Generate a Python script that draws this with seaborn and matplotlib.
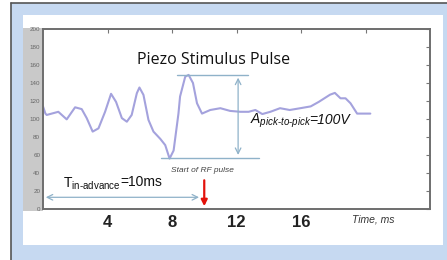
import matplotlib
matplotlib.use('Agg')
import matplotlib.pyplot as plt
import pandas as pd
import seaborn as sns
from matplotlib.patches import Rectangle
from matplotlib.lines import Line2D


TIME_MS = [0.0, 0.15, 0.23, 0.95, 1.47, 1.99, 2.4, 2.71, 3.08, 3.44, 3.85,
           4.22, 4.53, 4.89, 5.2, 5.5, 5.82, 5.98, 6.23, 6.54, 6.85, 7.27,
           7.58, 7.85, 8.1, 8.4, 8.5, 8.82, 9.03, 9.3, 9.55, 9.86, 10.37,
           11.0, 11.6, 12.24, 12.75, 13.17, 13.6, 14.1, 14.7, 15.3, 15.96,
           16.6, 17.1, 17.8, 18.1, 18.45, 18.76, 19.07, 19.48, 20.3]
VOLTS = [114, 106, 104.5, 108, 99.6, 113, 111, 101, 86, 89.6, 108,
         128, 119, 101, 97, 104.5, 128.7, 135, 126.8, 99, 86, 78,
         71, 56, 65, 106, 125, 147, 149, 140, 117.5, 106, 110,
         112, 109, 108, 108, 110, 105.5, 108, 112, 110, 112,
         114, 119, 127, 129, 123, 123, 117.5, 106, 106]

X_TICKS = [4, 8, 12, 16, 20]
X_TICK_LABELS = ['4', '8', '12', '16', '']
Y_TICKS = list(range(0, 201, 20))

PEAK, TROUGH = 149, 57
RF_START = 10

BLUE_BG = '#c6d9f1'
LINE_C = '#a4a2dd'
ANNOT_C = '#8fb2c9'


def decorate_figure(fig):
    W, H = 447, 260
    # light blue card with dark left/top edge
    fig.patches.append(Rectangle((11 / W, 0), 1, 1 - 3 / H, transform=fig.transFigure,
                                 facecolor=BLUE_BG, edgecolor='none', zorder=-3))
    fig.lines.append(Line2D([11 / W, 11 / W], [0, 1 - 3 / H], transform=fig.transFigure,
                            color='#555555', lw=1.2))
    fig.lines.append(Line2D([11 / W, 1], [1 - 3 / H, 1 - 3 / H], transform=fig.transFigure,
                            color='#555555', lw=1.2))
    # white panel
    fig.patches.append(Rectangle((23 / W, 1 - 245 / H), (443 - 23) / W, (245 - 15) / H,
                                 transform=fig.transFigure, facecolor='white',
                                 edgecolor='none', zorder=-2))
    # gray strip behind y tick labels
    fig.patches.append(Rectangle((23 / W, 1 - 211 / H), 20 / W, (211 - 28) / H,
                                 transform=fig.transFigure, facecolor='#c9c9c9',
                                 edgecolor='none', zorder=-1))


def sub_label(ax, x, y, main, sub, tail, italic, gap):
    # "main" with a subscript, then the tail right after it
    cmd = r'\mathit' if italic else r'\mathrm'
    t = ax.text(x, y, '$%s{%s}_{%s{%s}}$' % (cmd, main, cmd, sub),
                ha='left', va='baseline', fontsize=10, color='#111111')
    ax.annotate(tail, xy=(1, 0), xycoords=t, xytext=(gap, 2.2),
                textcoords='offset points', ha='left', va='bottom',
                fontsize=10, style='italic' if italic else 'normal', color='#111111')


def main():
    sns.set_style('white')
    plt.rcParams['font.family'] = ['Liberation Sans', 'DejaVu Sans']
    plt.rcParams['mathtext.fontset'] = 'custom'
    plt.rcParams['mathtext.rm'] = 'Liberation Sans'
    plt.rcParams['mathtext.it'] = 'Liberation Sans:italic'

    fig = plt.figure(figsize=(4.47, 2.6), dpi=100, facecolor='white')
    decorate_figure(fig)
    ax = fig.add_axes([43 / 447, 1 - 209 / 260, (430 - 43) / 447, (209 - 29) / 260])

    df = pd.DataFrame({'time': TIME_MS, 'volt': VOLTS})
    sns.lineplot(data=df, x='time', y='volt', ax=ax, color=LINE_C, lw=1.5, sort=False)

    ax.set_xlim(0, 24)
    ax.set_ylim(0, 200)
    ax.set_xlabel('')
    ax.set_ylabel('')
    ax.set_xticks(X_TICKS)
    ax.set_xticklabels(X_TICK_LABELS, fontsize=12, fontweight='bold', color='#222222')
    ax.set_yticks(Y_TICKS)
    ax.set_yticklabels([str(v) for v in Y_TICKS], fontsize=4.5, color='#666666')
    ax.tick_params(axis='both', direction='in', length=3, width=0.8, color='#777777',
                   top=True, right=True)
    ax.tick_params(axis='x', pad=4)
    ax.tick_params(axis='y', pad=2)
    for s in ax.spines.values():
        s.set_color('#6e6e6e')
        s.set_linewidth(1.4)

    ax.text(10.56, 166, 'Piezo Stimulus Pulse', ha='center', va='center',
            fontsize=11.5, family='Open Sans', color='#111111')

    # peak-to-peak marker
    ax.plot([8.3, 12.7], [PEAK, PEAK], color=ANNOT_C, lw=1)
    ax.plot([7.3, 13.4], [TROUGH, TROUGH], color=ANNOT_C, lw=1)
    ax.annotate('', xy=(12.1, PEAK), xytext=(12.1, TROUGH),
                arrowprops=dict(arrowstyle='<->', color=ANNOT_C, lw=0.9))
    sub_label(ax, 12.85, 95, 'A', 'pick‐to‐pick', '=100V', italic=True, gap=-2)

    ax.text(9.87, 43, 'Start of RF pulse', ha='center', va='center',
            fontsize=6, style='italic', color='#444444')

    # lead time marker
    ax.annotate('', xy=(0, 13), xytext=(RF_START - 0.15, 13),
                arrowprops=dict(arrowstyle='<->', color=ANNOT_C, lw=0.9))
    sub_label(ax, 1.24, 24, 'T', 'in‐advance', '=10ms', italic=False, gap=-0.5)
    ax.annotate('', xy=(RF_START, 0), xytext=(RF_START, 35),
                arrowprops=dict(arrowstyle='-|>', color='#e3120b', lw=1.6,
                                mutation_scale=9))

    ax.text(0.853, -0.06, 'Time, ms', transform=ax.transAxes, ha='center', va='center',
            fontsize=7.5, style='italic', color='#333333')

    fig.savefig('out.png', dpi=100, facecolor=fig.get_facecolor())


if __name__ == '__main__':
    main()
